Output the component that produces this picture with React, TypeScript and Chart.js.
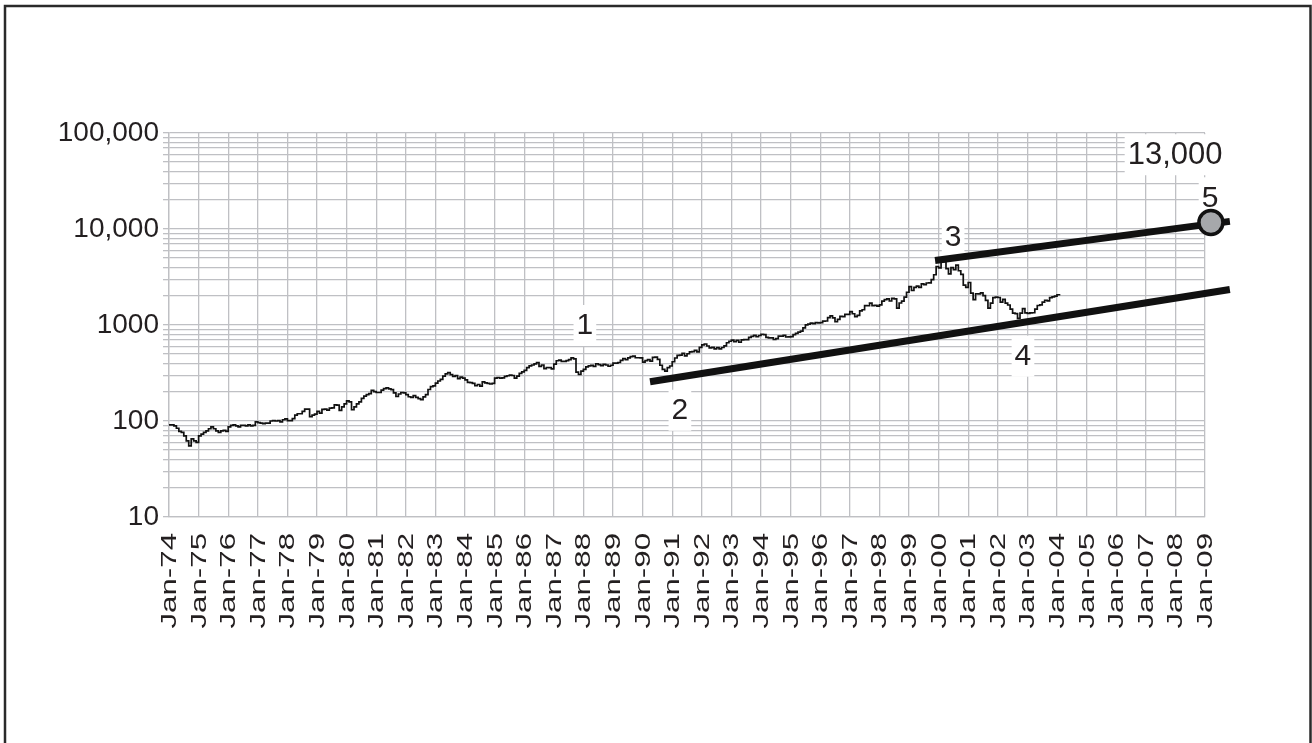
import React, { useEffect, useRef } from "react";
import { Chart, registerables } from "chart.js";

Chart.register(...registerables);

// ---------------- DATA ----------------
const startYear = 1974;

// Monthly index values, Jan-74 .. Feb-04
const monthlyClose: number[] = [
  // 1974
  91, 91, 89, 84, 78, 76, 70, 62, 55, 65, 62, 60,
  // 1975
  70, 73, 76, 79, 83, 87, 83, 79, 76, 79, 80, 78,
  // 1976
  87, 90, 91, 89, 87, 90, 90, 89, 91, 89, 90, 98,
  // 1977
  96, 95, 94, 95, 95, 100, 101, 100, 101, 98, 103, 105,
  // 1978
  101, 101, 106, 115, 119, 119, 126, 133, 133, 111, 115, 118,
  // 1979
  126, 121, 132, 133, 130, 136, 137, 147, 146, 129, 140, 151,
  // 1980
  162, 158, 131, 140, 151, 158, 172, 182, 188, 193, 208, 202,
  // 1981
  198, 198, 210, 217, 221, 216, 212, 196, 180, 191, 198, 196,
  // 1982
  188, 179, 176, 184, 176, 171, 167, 178, 188, 213, 228, 232,
  // 1983
  248, 261, 271, 293, 309, 319, 304, 292, 297, 276, 286, 279,
  // 1984
  268, 253, 251, 247, 233, 240, 231, 255, 250, 247, 243, 247,
  // 1985
  279, 284, 279, 281, 291, 296, 301, 298, 280, 293, 314, 325,
  // 1986
  336, 360, 375, 383, 394, 406, 371, 383, 351, 361, 360, 349,
  // 1987
  392, 424, 430, 418, 417, 425, 435, 455, 444, 323, 305, 330,
  // 1988
  345, 367, 375, 379, 370, 395, 387, 377, 388, 383, 372, 381,
  // 1989
  401, 400, 407, 428, 446, 435, 454, 469, 473, 456, 456, 455,
  // 1990
  411, 426, 436, 420, 459, 462, 438, 381, 345, 330, 359, 374,
  // 1991
  414, 453, 482, 485, 506, 476, 502, 526, 527, 543, 524, 586,
  // 1992
  620, 634, 604, 579, 585, 564, 581, 563, 583, 605, 653, 677,
  // 1993
  696, 671, 690, 661, 701, 704, 705, 743, 763, 779, 754, 777,
  // 1994
  801, 793, 744, 734, 735, 706, 722, 766, 764, 778, 750, 752,
  // 1995
  755, 794, 817, 844, 865, 934, 1001, 1020, 1044, 1036, 1059, 1052,
  // 1996
  1060, 1100, 1101, 1191, 1243, 1185, 1081, 1142, 1227, 1222, 1293, 1291,
  // 1997
  1380, 1309, 1222, 1261, 1400, 1442, 1594, 1587, 1686, 1594, 1601, 1570,
  // 1998
  1619, 1771, 1836, 1868, 1779, 1895, 1872, 1499, 1694, 1771, 1950, 2193,
  // 1999
  2506, 2288, 2461, 2543, 2471, 2686, 2639, 2739, 2746, 2966, 3336, 4069,
  // 2000
  3940, 4697, 4573, 3861, 3401, 3966, 3767, 4206, 3673, 3370, 2598, 2471,
  // 2001
  2773, 2152, 1840, 2116, 2111, 2161, 2027, 1805, 1499, 1690, 1931, 1950,
  // 2002
  1934, 1732, 1845, 1688, 1616, 1463, 1328, 1315, 1172, 1330, 1479, 1336,
  // 2003
  1321, 1338, 1341, 1464, 1596, 1623, 1735, 1811, 1787, 1932, 1960, 2003,
  // 2004
  2066, 2030,
];

const yearTicks: number[] = [
  1974, 1975, 1976, 1977, 1978, 1979, 1980, 1981, 1982, 1983, 1984, 1985,
  1986, 1987, 1988, 1989, 1990, 1991, 1992, 1993, 1994, 1995, 1996, 1997,
  1998, 1999, 2000, 2001, 2002, 2003, 2004, 2005, 2006, 2007, 2008, 2009,
];
const yearLabels: string[] = [
  "Jan-74", "Jan-75", "Jan-76", "Jan-77", "Jan-78", "Jan-79", "Jan-80",
  "Jan-81", "Jan-82", "Jan-83", "Jan-84", "Jan-85", "Jan-86", "Jan-87",
  "Jan-88", "Jan-89", "Jan-90", "Jan-91", "Jan-92", "Jan-93", "Jan-94",
  "Jan-95", "Jan-96", "Jan-97", "Jan-98", "Jan-99", "Jan-00", "Jan-01",
  "Jan-02", "Jan-03", "Jan-04", "Jan-05", "Jan-06", "Jan-07", "Jan-08",
  "Jan-09",
];

const yDecades: number[] = [10, 100, 1000, 10000, 100000];
const yDecadeLabels: string[] = ["10", "100", "1000", "10,000", "100,000"];

// Trend lines (year, value)
const supportX: number[] = [1990.25, 2009.84];
const supportY: number[] = [256, 2340];
const resistX: number[] = [1999.88, 2009.84];
const resistY: number[] = [4700, 12000];
const targetX: number[] = [2009.2];
const targetY: number[] = [11700];

// Annotations
const annText: string[] = ["1", "2", "3", "4", "5", "13,000"];
const annX: number[] = [1988.05, 1991.26, 2000.49, 2002.85, 2009.17, 2007.99];
const annY: number[] = [1000, 131, 8380, 479, 21400, 60100];
const annSize: number[] = [30, 30, 30, 30, 30, 31];

// ---------------- STYLE ----------------
const FONT = "'Liberation Sans', Arial, Helvetica, sans-serif";
const INK = "#231f20";
const GRID = "#bfc0c4";

const frameAndLabels = {
  id: "frameAndLabels",
  beforeDatasetsDraw(chart: any) {
    const { ctx } = chart;
    const xs = chart.scales.x;
    const ys = chart.scales.y;
    ctx.save();
    for (let i = 0; i < annText.length; i++) {
      const px = xs.getPixelForValue(annX[i]);
      const py = ys.getPixelForValue(annY[i]);
      ctx.font = `${annSize[i]}px ${FONT}`;
      const w = ctx.measureText(annText[i]).width;
      ctx.fillStyle = "#ffffff";
      ctx.fillRect(px - w / 2 - 3, py - 20, w + 6, 41);
      ctx.fillStyle = INK;
      ctx.textAlign = "center";
      ctx.textBaseline = "middle";
      ctx.fillText(annText[i], px, py + 1);
    }
    ctx.restore();
  },
  afterDraw(chart: any) {
    const { ctx } = chart;
    const xs = chart.scales.x;
    ctx.save();
    // x tick labels, rotated
    ctx.fillStyle = INK;
    ctx.font = `22px ${FONT}`;
    ctx.textAlign = "right";
    ctx.textBaseline = "middle";
    const top = chart.chartArea.bottom + 16;
    for (let i = 0; i < yearTicks.length; i++) {
      const px = xs.getPixelForValue(yearTicks[i]);
      ctx.save();
      ctx.translate(px, top);
      ctx.rotate(-Math.PI / 2);
      ctx.scale(1.42, 1);
      ctx.fillText(yearLabels[i], 0, 1);
      ctx.restore();
    }
    // outer frame
    ctx.strokeStyle = "#2a2a2a";
    ctx.lineWidth = 2.5;
    ctx.strokeRect(5, 6, 1305.5, 760);
    ctx.restore();
  },
};

export default function App() {
  const ref = useRef<HTMLCanvasElement | null>(null);

  useEffect(() => {
    if (!ref.current) return;
    const priceData = monthlyClose.map((v, i) => ({ x: startYear + i / 12, y: v }));
    const supportData = supportX.map((x, i) => ({ x, y: supportY[i] }));
    const resistData = resistX.map((x, i) => ({ x, y: resistY[i] }));
    const targetData = targetX.map((x, i) => ({ x, y: targetY[i] }));

    const chart = new Chart(ref.current, {
      type: "line",
      data: {
        datasets: [
          {
            label: "Target",
            data: targetData,
            showLine: false,
            pointRadius: 12,
            pointBackgroundColor: "#a6a8ab",
            pointBorderColor: "#111",
            pointBorderWidth: 3.5,
            clip: false as any,
            order: 0,
          },
          {
            label: "Resistance",
            data: resistData,
            borderColor: "#111",
            borderWidth: 7,
            borderCapStyle: "butt",
            pointRadius: 0,
            clip: false as any,
            order: 1,
          },
          {
            label: "Support",
            data: supportData,
            borderColor: "#111",
            borderWidth: 7,
            borderCapStyle: "butt",
            pointRadius: 0,
            clip: false as any,
            order: 2,
          },
          {
            label: "Index",
            data: priceData,
            borderColor: "#111",
            borderWidth: 1.7,
            stepped: true,
            pointRadius: 0,
            order: 3,
          },
        ],
      },
      options: {
        responsive: false,
        animation: false,
        layout: { padding: { top: 133, right: 107, bottom: 0, left: 0 } },
        plugins: {
          legend: { display: false },
          tooltip: { enabled: false },
        },
        scales: {
          x: {
            type: "linear",
            min: 1974,
            max: 2009,
            afterBuildTicks: (scale: any) => {
              scale.ticks = yearTicks.map((v) => ({ value: v }));
            },
            afterFit: (scale: any) => {
              scale.height = 226;
            },
            ticks: { display: false },
            grid: { color: GRID, lineWidth: 1.3, drawTicks: false },
            border: { color: GRID, width: 1.3 },
          },
          y: {
            type: "logarithmic",
            min: 10,
            max: 100000,
            afterBuildTicks: (scale: any) => {
              const t: { value: number }[] = [];
              for (let d = 0; d < yDecades.length - 1; d++) {
                for (let m = 1; m < 10; m++) t.push({ value: yDecades[d] * m });
              }
              t.push({ value: yDecades[yDecades.length - 1] });
              scale.ticks = t;
            },
            afterFit: (scale: any) => {
              scale.width = 169;
            },
            ticks: {
              autoSkip: false,
              padding: 4,
              color: INK,
              font: { family: FONT, size: 28 },
              callback: (value: any) => {
                const idx = yDecades.indexOf(Number(value));
                return idx >= 0 ? yDecadeLabels[idx] : "";
              },
            },
            grid: { color: GRID, lineWidth: 1.3, tickLength: 6 },
            border: { color: GRID, width: 1.3 },
          },
        },
      },
      plugins: [frameAndLabels],
    } as any);

    return () => chart.destroy();
  }, []);

  return (
    <div style={{ position: "fixed", left: 0, top: 0, width: 1312, height: 743, background: "#fff" }}>
      <canvas ref={ref} width={1312} height={743} />
    </div>
  );
}
